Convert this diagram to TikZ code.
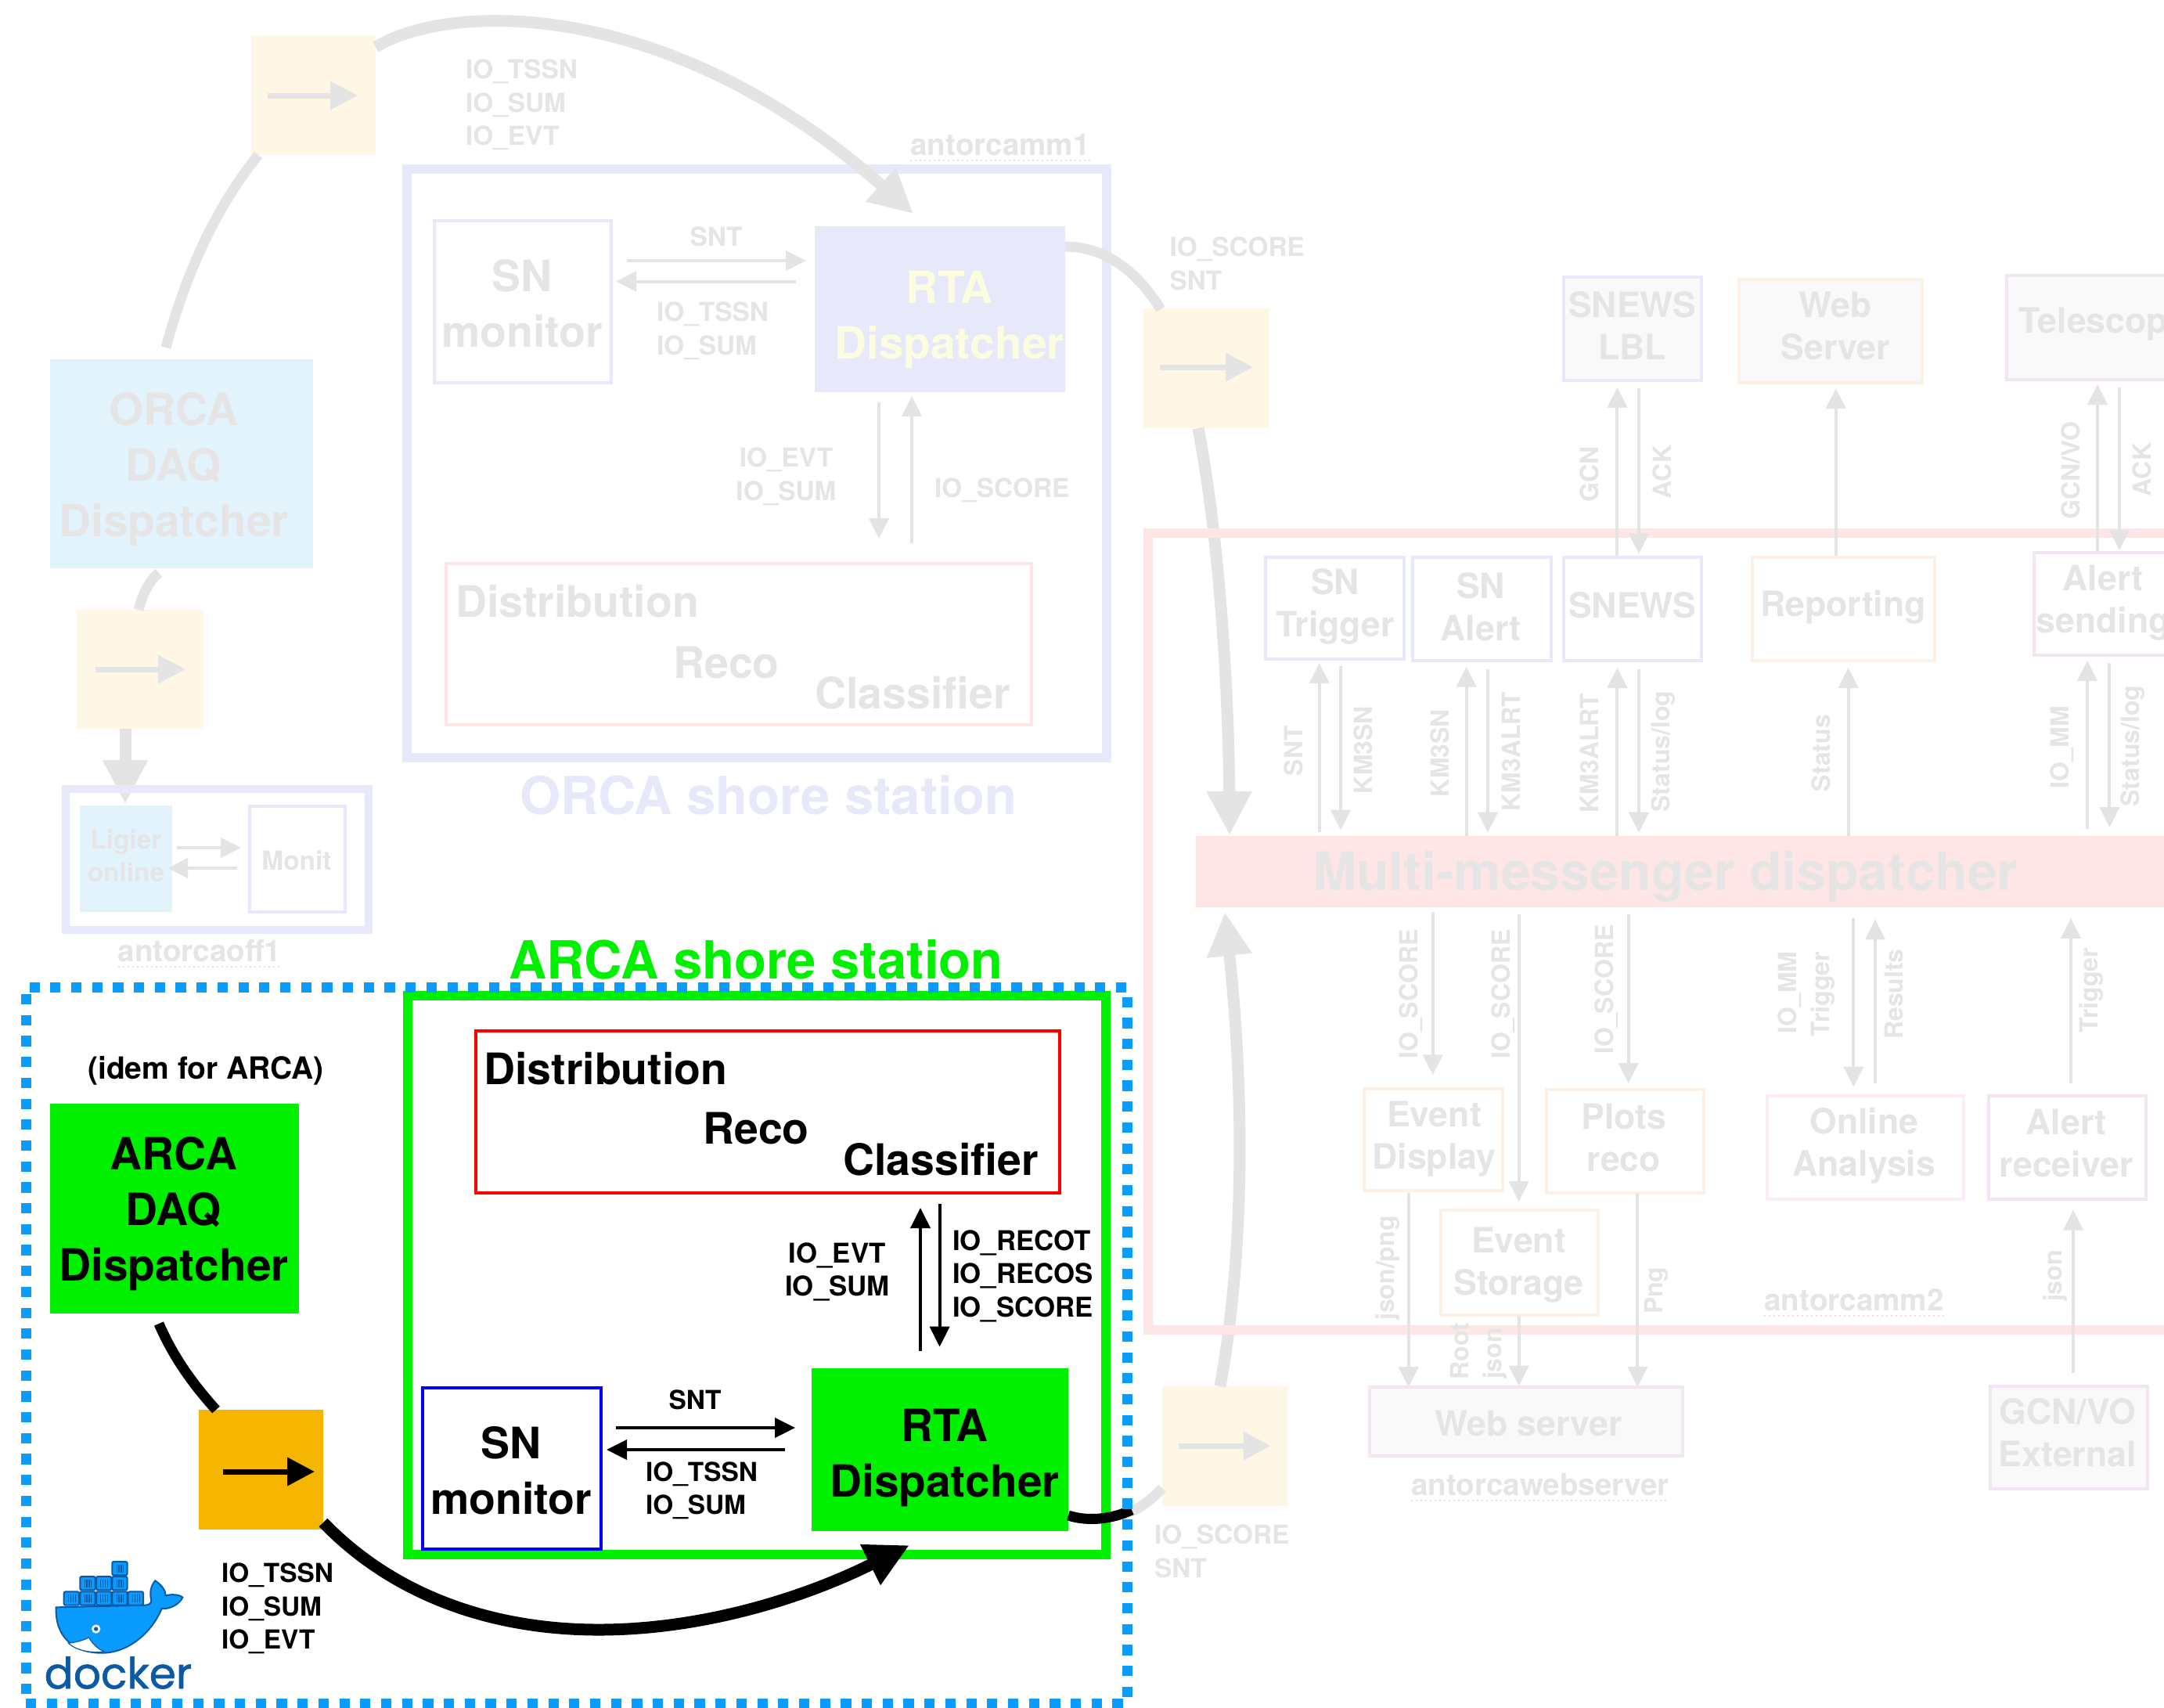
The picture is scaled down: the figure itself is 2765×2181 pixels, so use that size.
\documentclass[tikz,border=0pt]{standalone}
\usepackage{fontspec}
\setmainfont{TeX Gyre Heros}
\newfontfamily\dockerfont[RawFeature={embolden=1.2}]{Poppins}
\usetikzlibrary{arrows.meta,fit,calc}
\definecolor{gtxt}{HTML}{E5E5E5}
\definecolor{garr}{HTML}{E4E4E4}
\definecolor{yel}{HTML}{FEF7E6}
\definecolor{lav}{HTML}{E7E9FB}
\definecolor{skyb}{HTML}{E2F3FC}
\definecolor{rosec}{HTML}{FEE6E6}
\definecolor{peach}{HTML}{FDF0E4}
\definecolor{purp}{HTML}{F3E6F3}
\definecolor{pinkc}{HTML}{FBEDF8}
\definecolor{softg}{HTML}{F9F9F9}
\definecolor{paley}{HTML}{FCFCE0}
\definecolor{agreen}{HTML}{00F000}
\definecolor{orangec}{HTML}{F6B500}
\definecolor{dotb}{HTML}{0A9BFF}
\definecolor{whale}{HTML}{0A9BFF}
\definecolor{whaled}{HTML}{0B5AA5}
\definecolor{redline}{HTML}{F8D8D8}
\newcommand\fnt[2]{\fontsize{#1}{#2}\selectfont\bfseries}
\tikzset{
  bigtxt/.style={font=\fnt{27.7}{35.5},align=center,inner sep=0pt,outer sep=0pt},
  disptxt/.style={font=\fnt{28.4}{35.5},align=center,inner sep=0pt,outer sep=0pt},
  midtxt/.style={font=\fnt{22.3}{27},align=center,inner sep=0pt,outer sep=0pt},
  lbl/.style={font=\fnt{16.7}{21.25},align=left,inner sep=0pt,outer sep=0pt},
  lblc/.style={font=\fnt{16.7}{21.25},align=center,inner sep=0pt,outer sep=0pt},
  lblb/.style={font=\fnt{17.4}{21.25},align=left,inner sep=0pt,outer sep=0pt},
  vlbl/.style={font=\fnt{16}{21},rotate=90,inner sep=0pt,outer sep=0pt},
  hostlbl/.style={font=\fnt{19.3}{24},inner sep=0pt,outer sep=0pt,text=gtxt},
  titletxt/.style={font=\fnt{33.5}{40},inner sep=0pt,outer sep=0pt},
  thinbox/.style={draw,line width=2pt,inner sep=0pt,outer sep=0pt},
  fatbox/.style={draw,line width=6pt,inner sep=0pt,outer sep=0pt},
  fillbox/.style={inner sep=0pt,outer sep=0pt},
  thinarr/.style={line width=2pt,-{Triangle[length=13pt,width=12.5pt]}},
  midarr/.style={line width=3.5pt,-{Triangle[length=17.5pt,width=17.5pt]}},
  bigarr/.style={line width=7.5pt,-{Triangle[length=28pt,width=27pt]}},
  fatline/.style={line width=6.5pt},
  spell/.style={dotted,line width=1pt,redline},
}
\newcommand\bx[6]{\coordinate (#1-p) at (#2,#3);\coordinate (#1-q) at (#4,#5);\node[fit=(#1-p)(#1-q),#6] (#1) {};}
\newcommand\lnk[4]{\coordinate (#1-a) at (#3);\coordinate (#1-b) at (#4);\draw[#2] (#1-a) -- (#1-b);}
\begin{document}
\begin{tikzpicture}[x=0.5pt,y=-0.5pt]
\useasboundingbox (0,0) rectangle (2765,2181);
\clip (0,0) rectangle (2765,2181);
\fill[white] (0,0) rectangle (2765,2181);
\begin{scope}[text=gtxt]
% ---- ORCA shore station
\bx{orcabox}{520}{216}{1414}{968}{fatbox,draw=lav}
\bx{orcadaq}{64}{459}{400}{726}{fillbox,fill=skyb}
\node[disptxt] (orcadaqt) at (222,600) {ORCA\\DAQ\\Dispatcher};
\bx{ybA}{320.5}{45}{480}{198}{fillbox,fill=yel}
\bx{ybB}{98}{779}{260}{931}{fillbox,fill=yel}
\bx{ybC}{1461}{393.6}{1622}{547}{fillbox,fill=yel}
\bx{ybD}{1485}{1771}{1644.6}{1923.6}{fillbox,fill=yel}
\lnk{aA}{midarr,garr}{341.5,122}{457,122}
\lnk{aB}{midarr,garr}{121.5,855}{237,855}
\lnk{aC}{midarr,garr}{1482,469}{1601,469}
\lnk{aD}{midarr,garr}{1506,1847}{1623.6,1847}
\coordinate (cA) at (212,444);
\coordinate (cB) at (203,732);
\coordinate (cC) at (177,779);
\coordinate (cD) at (330,198);
\coordinate (cE) at (480,60);
\coordinate (cF) at (1167,273);
\coordinate (cG) at (1361,315);
\coordinate (cH) at (1483,395);
\coordinate (cI) at (1531,547);
\coordinate (cJ) at (1571,1067);
\coordinate (cK) at (1559,1771);
\coordinate (cL) at (1565,1165);
\coordinate (cM) at (1445,1931);
\coordinate (cN) at (1485,1901);
\coordinate (cO) at (160,931);
\coordinate (cP) at (160,1027);
\draw[fatline,garr] (cA) .. controls (240,340) and (280,260) .. (cD);
\draw[fatline,garr] (cB) .. controls (190,742) and (182,760) .. (cC);
\draw[bigarr,garr] (cO) -- (cP);
\draw[bigarr,garr] (cE) .. controls (580,0) and (860,0) .. (cF);
\draw[fatline,garr] (cG) .. controls (1415,315) and (1455,350) .. (cH);
\draw[bigarr,garr] (cI) .. controls (1560,700) and (1570,900) .. (cJ);
\draw[bigarr,garr] (cK) .. controls (1590,1600) and (1590,1400) .. (cL);
\draw[fatline,garr] (cM) .. controls (1460,1925) and (1475,1912) .. (cN);
\bx{orcasn}{555}{282}{781}{489}{thinbox,draw=lav}
\node[bigtxt] (orcasnt) at (667,388) {SN\\monitor};
\bx{orcarta}{1041}{289}{1361}{501}{fillbox,fill=lav}
\node[disptxt,text=paley] (orcartat) at (1213,408.5) {RTA\\Dispatcher};
\bx{orcared}{570}{720}{1318}{926}{thinbox,draw=rosec}
\node[bigtxt,anchor=west] (orcadist) at (582,768) {Distribution};
\node[bigtxt] (orcareco) at (928,847) {Reco};
\node[bigtxt] (orcaclas) at (1166,885) {Classifier};
\node[lblc] (orcasnt2) at (915,302) {SNT};
\lnk{o1}{thinarr,garr}{801,333}{1030,333}
\lnk{o2}{thinarr,garr}{1017,359.5}{787,359.5}
\node[lbl,anchor=west] (orcatssn) at (839,423) {IO\_TSSN\\IO\_SUM};
\lnk{o3}{thinarr,garr}{1123,514}{1123,688}
\lnk{o4}{thinarr,garr}{1165,693.5}{1165,506}
\node[lblc] (orcaevt) at (1004.5,609) {IO\_EVT\\IO\_SUM};
\node[lbl,anchor=west] (orcascore) at (1194,626) {IO\_SCORE};
\node[titletxt,text=lav] (orcatitle) at (981.6,1016) {ORCA shore station};
\node[hostlbl] (hmm1) at (1278,185) {antorcamm1};
\node[lbl,anchor=west] (toplbl) at (595,134) {IO\_TSSN\\IO\_SUM\\IO\_EVT};
% ---- off1
\bx{offbox}{84}{1008}{471}{1188}{line width=5pt,draw=lav,inner sep=0pt,outer sep=0pt}
\bx{ligier}{102}{1029}{220}{1165}{fillbox,fill=skyb}
\node[lblc] (ligiert) at (161,1093) {Ligier\\online};
\bx{monit}{318.5}{1030}{441}{1165}{thinbox,draw=lav}
\node[lblc] (monitt) at (379,1099) {Monit};
\lnk{l1}{thinarr,garr}{226,1083}{308,1083}
\lnk{l2}{thinarr,garr}{303,1109}{214,1109}
\node[hostlbl] (hoff) at (255,1215) {antorcaoff1};
% ---- antorcamm2
\bx{mmbox}{1467}{681}{2800}{1699}{fatbox,draw=rosec}
\bx{mmd}{1528}{1068}{2800}{1159}{fillbox,fill=rosec}
\node[font=\fnt{33.9}{40},inner sep=0pt] (mmdt) at (2127.6,1120) {Multi-messenger dispatcher};
\node[lbl,anchor=west] (lblR) at (1494.5,337) {IO\_SCORE\\SNT};
\node[lbl,anchor=west] (lblS) at (1475,1982) {IO\_SCORE\\SNT};
\bx{snlbl}{1997.6}{353.6}{2173.7}{486.3}{thinbox,draw=lav,fill=softg}
\node[midtxt] (snlblt) at (2085.7,415.5) {SNEWS\\LBL};
\bx{websrv}{2222}{357}{2455.5}{489}{thinbox,draw=peach,fill=softg}
\node[midtxt] (websrvt) at (2345,416) {Web\\Server};
\bx{tele}{2563.7}{352}{2800}{484.5}{thinbox,draw=purp,fill=softg}
\node[midtxt,anchor=west] (telet) at (2579.7,414) {Telescop};
\lnk{r1}{thinarr,garr}{2066.4,711.7}{2066.4,494.8}
\lnk{r2}{thinarr,garr}{2094,496}{2094,707.4}
\node[vlbl] (rl1) at (2031,605.6) {GCN};
\node[vlbl] (rl2) at (2123.4,603) {ACK};
\lnk{r3}{thinarr,garr}{2345.7,711.7}{2345.7,496}
\lnk{r4}{thinarr,garr}{2680,704}{2680,491}
\lnk{r5}{thinarr,garr}{2708,495}{2708,703}
\node[vlbl] (rl3) at (2646,601) {GCN/VO};
\node[vlbl] (rl4) at (2737,600) {ACK};
\bx{sntrig}{1617}{712}{1794}{842}{thinbox,draw=lav}
\node[midtxt] (sntrigt) at (1706,775) {SN\\Trigger};
\bx{snalert}{1805}{712}{1982}{844}{thinbox,draw=lav}
\node[midtxt] (snalertt) at (1892,775) {SN\\Alert};
\bx{snews}{1997.6}{712}{2173.7}{844}{thinbox,draw=lav}
\node[midtxt] (snewst) at (2085.7,773) {SNEWS};
\bx{report}{2239}{712}{2471.5}{844}{thinbox,draw=peach}
\node[midtxt] (reportt) at (2355,776) {Reporting};
\bx{asend}{2599}{705.6}{2800}{836.5}{thinbox,draw=purp}
\node[midtxt] (asendt) at (2687,770) {Alert\\sending};
\lnk{s1}{thinarr,garr}{1685.7,1063}{1685.7,847}
\lnk{s2}{thinarr,garr}{1713,851}{1713,1060.7}
\node[vlbl] (sl1) at (1653,959) {SNT};
\node[vlbl] (sl2) at (1742,958) {KM3SN};
\lnk{s3}{thinarr,garr}{1873.5,1068}{1873.5,851.6}
\lnk{s4}{thinarr,garr}{1901,854.7}{1901,1063.7}
\node[vlbl] (sl3) at (1840,962) {KM3SN};
\node[vlbl] (sl4) at (1930.5,960) {KM3ALRT};
\lnk{s5}{thinarr,garr}{2066.4,1068}{2066.4,853}
\lnk{s6}{thinarr,garr}{2094,854.7}{2094,1063.7}
\node[vlbl] (sl5) at (2031,962) {KM3ALRT};
\node[vlbl] (sl6) at (2125,960) {Status/log};
\lnk{s7}{thinarr,garr}{2361.6,1068}{2361.6,853}
\node[vlbl] (sl7) at (2327,962) {Status};
\lnk{s8}{thinarr,garr}{2667,1059.4}{2667,843.8}
\lnk{s9}{thinarr,garr}{2695.4,847}{2695.4,1057}
\node[vlbl] (sl8) at (2635,954.6) {IO\_MM};
\node[vlbl] (sl9) at (2725,953) {Status/log};
% lower part
\lnk{d1}{thinarr,garr}{1830.7,1165}{1830.7,1373.3}
\node[vlbl] (dl1) at (1803,1270) {IO\_SCORE};
\lnk{d2}{thinarr,garr}{1940.6,1168}{1940.6,1535}
\node[vlbl] (dl2) at (1921,1270) {IO\_SCORE};
\lnk{d3}{thinarr,garr}{2080.7,1168}{2080.7,1384}
\node[vlbl] (dl3) at (2053,1264) {IO\_SCORE};
\bx{evdisp}{1742.7}{1390.7}{1919.6}{1520.8}{thinbox,draw=peach}
\node[midtxt] (evdispt) at (1832.4,1455) {Event\\Display};
\bx{plots}{1975.8}{1391.8}{2177}{1524}{thinbox,draw=peach}
\node[midtxt] (plotst) at (2074.8,1453) {Plots\\reco};
\bx{evstor}{1840.8}{1546}{2042}{1680}{thinbox,draw=peach}
\node[midtxt] (evstort) at (1940.6,1616) {Event\\Storage};
\bx{online}{2258.4}{1400}{2509}{1532}{thinbox,draw=pinkc}
\node[midtxt] (onlinet) at (2381.7,1464) {Online\\Analysis};
\bx{arecv}{2541}{1400}{2742}{1532}{thinbox,draw=purp}
\node[midtxt] (arecvt) at (2640,1460) {Alert\\receiver};
\lnk{e1}{thinarr,garr}{2368.3,1172.8}{2368.3,1388.5}
\lnk{e2}{thinarr,garr}{2396,1384}{2396,1174.4}
\node[vlbl] (el1) at (2287,1268) {IO\_MM};
\node[vlbl] (el2) at (2329,1270) {Trigger};
\node[vlbl] (el3) at (2419.6,1270) {Results};
\lnk{e3}{thinarr,garr}{2646,1384}{2646,1172.8}
\node[vlbl] (el4) at (2672,1265) {Trigger};
\lnk{e4}{thinarr,garr}{2649,1754.4}{2649,1545.7}
\node[vlbl] (el5) at (2626,1630) {json};
\lnk{e5}{thinarr,garr}{1799.7,1524}{1799.7,1772}
\node[vlbl] (el6) at (1773,1620) {json/png};
\lnk{e6}{thinarr,garr}{1940.6,1681}{1940.6,1770.7}
\node[vlbl] (el7) at (1865,1726) {Root};
\node[vlbl] (el8) at (1909.6,1729) {json};
\lnk{e7}{thinarr,garr}{2092.4,1525}{2092.4,1772}
\node[vlbl] (el9) at (2116,1648.7) {Png};
\bx{webs2}{1750}{1772}{2150}{1859.6}{thinbox,draw=purp,fill=softg}
\node[midtxt] (webs2t) at (1953,1818) {Web server};
\bx{gcnext}{2542.8}{1770.7}{2744}{1902.4}{thinbox,draw=purp,fill=softg}
\node[midtxt] (gcnextt) at (2641.7,1830) {GCN/VO\\External};
\node[hostlbl] (hweb) at (1968,1897) {antorcawebserver};
\node[hostlbl] (hmm2) at (2369,1660.6) {antorcamm2};
\end{scope}
\draw[spell] ([yshift=-3pt]hoff.south west) -- ([yshift=-3pt]hoff.south east);
\draw[spell] ([yshift=-3pt]hmm1.south west) -- ([yshift=-3pt]hmm1.south east);
\draw[spell] ([yshift=-3pt]hmm2.south west) -- ([yshift=-3pt]hmm2.south east);
\draw[spell] ([yshift=-3pt]hweb.south west) -- ([yshift=-3pt]hweb.south east);
% ---- ARCA part
\bx{arcabox}{521}{1272}{1413}{1986}{fatbox,draw=agreen}
\bx{arcarta}{1037}{1747.5}{1365}{1956}{fillbox,fill=agreen}
\coordinate (fb6) at (1365,1936);
\coordinate (fb7) at (1446,1929);
\draw[fatline,black] (fb6) .. controls (1390,1944) and (1420,1941) .. (fb7);
\bx{dotbox}{33}{1261}{1440}{2176}{draw=dotb,line width=6.5pt,dash pattern=on 6.6pt off 6.75pt,inner sep=0pt,outer sep=0pt}
\node[titletxt,text=agreen] (arcatitle) at (966,1226) {ARCA shore station};
\bx{arcared}{608}{1317}{1354}{1523.5}{thinbox,draw=red}
\node[bigtxt,anchor=west] (dist) at (618.5,1365) {Distribution};
\node[bigtxt] (reco) at (966,1442) {Reco};
\node[bigtxt] (clas) at (1202,1481) {Classifier};
\node[font=\fnt{19.5}{24},inner sep=0pt] (idem) at (263,1368) {(idem for ARCA)};
\bx{arcadaq}{64}{1410}{382}{1677.5}{fillbox,fill=agreen}
\node[disptxt] (arcadaqt) at (222,1551) {ARCA\\DAQ\\Dispatcher};
\bx{fwd}{253.5}{1801}{413}{1954}{fillbox,fill=orangec}
\lnk{fa}{midarr,black}{285,1880}{402,1880}
\coordinate (fb1) at (203,1691);
\coordinate (fb2) at (276,1801);
\coordinate (fb3) at (413,1945);
\coordinate (fb4) at (765,2082);
\coordinate (fb5) at (1162,1974);
\draw[fatline,black] (fb1) .. controls (222,1735) and (248,1770) .. (fb2);
\draw[bigarr,black] (fb3) .. controls (510,2045) and (640,2082) .. (fb4) .. controls (900,2082) and (1030,2040) .. (fb5);
\bx{arcasn}{539.5}{1772.6}{768}{1979}{thinbox,draw=blue}
\node[bigtxt] (arcasnt) at (653,1879) {SN\\monitor};
\node[disptxt] (arcartat) at (1207,1862) {RTA\\Dispatcher};
\lnk{k1}{thinarr,black}{787,1824}{1016,1824}
\lnk{k2}{thinarr,black}{1003,1852}{775,1852}
\node[lblc] (ksnt) at (888,1788) {SNT};
\node[lbl,anchor=west] (ktssn) at (825,1904) {IO\_TSSN\\IO\_SUM};
\lnk{k3}{thinarr,black}{1176,1726}{1176,1543}
\lnk{k4}{thinarr,black}{1200.6,1538}{1200.6,1720.6}
\node[font=\fnt{17.4}{21.25},align=center,inner sep=0pt] (kevt) at (1070,1625) {IO\_EVT\\IO\_SUM};
\node[lblb,anchor=west] (krec) at (1217,1630) {IO\_RECOT\\IO\_RECOS\\IO\_SCORE};
\node[lbl,anchor=west] (kbot) at (283,2055) {IO\_TSSN\\IO\_SUM\\IO\_EVT};
% ---- docker logo
\begin{scope}[shift={(30,1950)},x=0.16667pt,y=-0.16667pt]
\fill[whale,draw=whaled,line width=1pt] (125,310) -- (465,302)
  .. controls (480,302) and (490,295) .. (490,285)
  .. controls (482,250) and (490,225) .. (505,208)
  .. controls (530,225) and (545,245) .. (545,265)
  .. controls (570,258) and (600,262) .. (610,272)
  .. controls (600,295) and (565,318) .. (530,315)
  .. controls (490,410) and (400,485) .. (300,485)
  .. controls (190,485) and (120,420) .. (125,310) -- cycle;
\fill[white,draw=whaled,line width=0.6pt] (172,447) .. controls (200,445) and (235,435) .. (250,425)
  .. controls (265,450) and (285,470) .. (310,480) .. controls (260,487) and (200,475) .. (172,447) -- cycle;
\fill[white] (278,393) circle (17);
\fill[whaled] (278,393) circle (8);
\foreach \xa/\ya in {155/250,217/250,279/250,340/250,401/250,217/192,279/192,340/192,340/135}{
  \fill[whale,draw=whaled,line width=1pt,rounded corners=1pt] (\xa,\ya) rectangle ++(58,52);
  \foreach \k in {0.3,0.45,0.6,0.75}{\draw[whaled,line width=0.6pt] (\xa+58*\k,\ya+12) -- (\xa+58*\k,\ya+42);}
}
\end{scope}
\node[font=\dockerfont\fontsize{27.5}{30}\selectfont,text=whaled,inner sep=0pt] (dockert) at (151,2137) {docker};
\end{tikzpicture}
\end{document}
